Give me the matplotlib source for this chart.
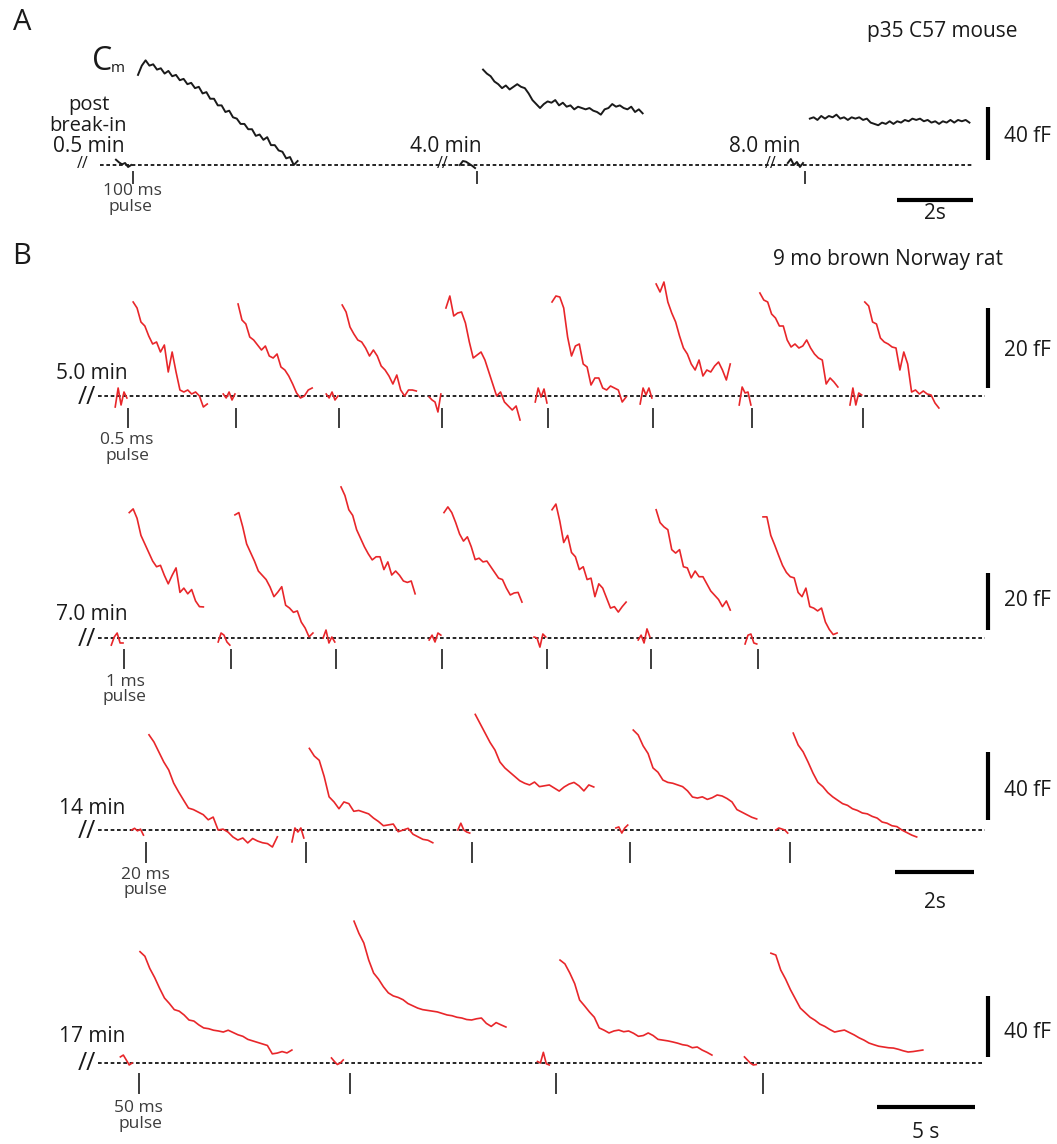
import matplotlib
matplotlib.use('Agg')
import matplotlib.pyplot as plt
import numpy as np

plt.rcParams['font.family'] = ['Open Sans', 'DejaVu Sans']

W, H = 1057, 1144
RED = '#e8262a'
INK = '#1a1a1a'
GREY = '#3c3c3c'

# ---------------- data ----------------
# Cm traces in fF, uniformly sampled after each depolarizing pulse;
# "pre" is the short stretch of baseline recorded just before the pulse.

# A: p35 C57 mouse, 100 ms pulses at 0.5, 4.0 and 8.0 min
a_pulse_t = [0.87, 9.92, 18.55]
a_lag = [0.13, 0.16, 0.13]
a_dt = 0.1
a_traces = [
    [68, 75, 79, 75, 76, 72, 73, 69, 71, 67, 68, 64, 65, 61, 62, 58, 59, 54, 55, 50, 50,
     45, 45, 40, 41, 36, 35, 31, 31, 27, 27, 22, 23, 19, 21, 15, 15, 11, 10, 5, 6, 0, 3],
    [72, 69, 67, 63, 61, 58, 60, 57, 59, 61, 59, 58, 54, 49, 46, 43, 46, 48, 47, 49, 45,
     47, 44, 45, 42, 44, 43, 42, 43, 41, 40, 38, 42, 43, 46, 44, 45, 43, 42, 44, 40, 42, 39],
    [35, 36, 34, 37, 35, 37, 36, 38, 35, 36, 34, 36, 35, 36, 34, 35, 32, 31, 30, 32, 31,
     33, 31, 33, 32, 34, 33, 35, 34, 35, 33, 34, 32, 33, 31, 33, 32, 34, 32, 34, 33, 34, 32],
]
a_pre = [[4, 2, 0.5, 1.5, -1.5, 0], [0, 3, 2.5, 1, -0.5, -2.3], [1.5, 4.5, 0, 2.3, -1.5, 1.5]]

# B: 9 mo brown Norway rat
# 5.0 min, 0.5 ms pulses
b1_pulse_t = [0.72, 3.49, 6.13, 8.77, 11.49, 14.18, 16.72, 19.56]
b1_lag = [0.13, 0.05, 0.08, 0.1, 0.1, 0.08, 0.2, 0.05]
b1_dt = 0.1
b1_traces = [
    [23.5, 22, 18.5, 17.5, 15, 13, 13.5, 11, 12.75, 6, 11, 6, 1.5, 1, 1.5, 0.5, 1, 0, -2.75, -2],
    [23, 19, 18, 14.75, 14, 12.75, 11.5, 12.5, 10, 9.5, 10.5, 7.25, 6.5, 5, 3, 0.75, -0.5, 0, 1.5, 2],
    [22.75, 21, 17.25, 15.5, 14, 13.5, 12, 10, 11.5, 10, 7.5, 6.5, 5, 3, 5.25, 1.5, 0, 1.5, 1.5, 1.25],
    [22, 25, 20, 20.75, 21, 18.25, 13.5, 9.5, 10.25, 11, 9, 6, 3, 0, 1, -1.5, -2.5, -3.5, -2.5, -6],
    [23.5, 25, 24.75, 22, 14.75, 10, 12.5, 13, 8, 7.25, 2.75, 4.5, 4.5, 2, 1.5, 2.5, 2, 1.5, -1.5, -0.25],
    [28, 26, 28.5, 23.5, 20.75, 18.5, 15, 12, 10.5, 8, 6.5, 9, 5, 6.5, 6, 7.5, 8.5, 6.5, 4, 8],
    [25.75, 24, 23.5, 20.5, 19.5, 17.5, 17.5, 14, 12.25, 13, 12, 12.5, 14, 12, 10.5, 9.5, 9, 3, 4.5, 3.5, 2.25],
    [23.5, 22.5, 18.5, 18, 14.5, 13.5, 13, 12.25, 12, 6.5, 11, 8, 1, 1.5, 0.5, 1.25, 0.5, 0.25, -1.75, -3],
]
b1_pre = [[-2.75, 2, -2.25, 1, -0.5], [0.5, -0.5, 1, -1, 0.5], [0.5, -0.5, 1, -1, 0],
          [-0.25, -1, -1.5, -4, 0.5], [-1.5, 2, -0.25, 1.75, -1.75], [-2, 2, 0.25, 2, -0.5],
          [-2.25, 2.25, 0.75, 1, -2.25], [-2.25, 2, -2.25, 0.75, 0.25]]

# 7.0 min, 1 ms pulses
b2_pulse_t = [0.62, 3.36, 6.05, 8.77, 11.46, 14.13, 16.87]
b2_lag = [0.13, 0.1, 0.13, 0.05, 0.13, 0.13, 0.13]
b2_dt = 0.1
b2_traces = [
    [44, 45.3, 42, 36, 33, 30, 27, 25, 25.5, 22, 19, 22, 24.6, 16, 17.5, 15.5, 17, 13, 11, 10.9],
    [43.2, 44, 39, 33, 30, 27, 23.5, 22, 20.5, 17.9, 14.5, 16.1, 18, 11.5, 10.5, 9, 9.5, 5.6, 3.5, 0.4, 1.75],
    [53, 50, 45, 43, 38, 35, 32, 29.5, 27.4, 28.5, 28.5, 24, 26.7, 22.1, 23.5, 22, 20, 19.5, 20, 15.5],
    [44, 46, 44, 40.5, 36.5, 34, 35.5, 32, 27.5, 28, 26.7, 27, 25, 23, 21, 20.5, 17.5, 15.1, 15.8, 16, 12.6],
    [45, 47, 41, 33.5, 36, 30, 28.5, 24, 25, 20.5, 21, 14.5, 19, 17.5, 14, 10.5, 11, 9.1, 11, 12.6],
    [45, 40.5, 39, 38, 31, 29.8, 31, 25, 24.6, 21.1, 23.5, 21.5, 21.5, 19, 16.5, 15, 13.5, 11, 13, 9.8],
    [42.5, 42.5, 36, 32.6, 29, 25.5, 23, 21.5, 21.1, 16, 14.5, 17.5, 11, 10.5, 9.5, 10.5, 5.6, 3, 1.2, 1.75],
]
b2_pre = [[-2.5, 0.35, 1.75, -1.75, -1.75], [-1.4, 1.75, 1, -1.4, -2.5], [0, 2.8, -1.75, 0.35, -1.4],
          [-0.7, 1, -1.4, 1.75, 1], [0.35, 0, -3.2, 1.4, 0.35], [-0.7, 1, -1.75, 3.2, 0.35],
          [-2.1, 1, 1.4, -1.75, -2.1]]

# 14 min, 20 ms pulses
b3_pulse_t = [1.16, 5.22, 9.42, 13.42, 17.47]
b3_lag = [0.08, 0.08, 0.08, 0.08, 0.08]
b3_dt = 0.125
b3_traces = [
    [56, 51.8, 45.9, 40, 35.3, 27.6, 22.4, 17.6, 12.9, 12, 10.5, 9, 6, 7.6, 0, 0.5, -1.2,
     -4.1, -5.9, -4.7, -7.6, -5, -6.5, -7.5, -8, -10, -4],
    [48, 43.5, 41, 31.5, 19.5, 16.5, 12.5, 16.5, 15.5, 11, 11.5, 10.5, 9.5, 7, 5, 2.5, 3,
     3.5, -1, 0, 1, -2.5, -4, -5.5, -6, -7.5],
    [68, 62.5, 57, 51.5, 47, 40, 36.5, 34, 31.5, 29, 27.5, 26.5, 28.2, 25.5, 26, 26.5, 24.7,
     22.9, 25.3, 27, 28, 26, 23, 26.5, 25.3],
    [58.8, 55.9, 49.5, 45, 36.5, 34, 29.4, 28, 27.5, 26.5, 25.5, 23, 19.4, 18.8, 19.5, 18,
     19, 20.6, 20, 18.5, 16.5, 12, 10.5, 9, 7.5, 6.5],
    [57, 50, 46, 40, 33.5, 28, 25.5, 22, 19.5, 17.5, 15.5, 14.5, 12.5, 11.5, 10, 9.5, 8, 7,
     4.7, 4, 2.5, 2, 0, -1.5, -3, -4.1],
]
b3_pre = [[0, 1, -0.5, 0.5, -3], [-7, 1.2, -1.2, 1.2, -4.7], [0, 4, 0, -1.2, -1.8],
          [1.2, 1.8, -1.8, 1.2, 2.9], [0, 1.2, 0.6, 0, -1.8]]

# 17 min, 50 ms pulses
b4_pulse_t = [1.99, 12.76, 23.27, 33.83]
b4_lag = [0.05, 0.2, 0.2, 0.4]
b4_dt = 0.25
b4_traces = [
    [73, 70, 62, 56, 49, 42.6, 39, 35, 34, 31.5, 28.2, 27.5, 25, 23, 22.5, 21.5, 21, 20.3,
     21.5, 20, 18.5, 17.5, 15.5, 14.5, 13.5, 12.5, 11.5, 6, 6.5, 7.5, 6.6, 8.5],
    [93, 85, 78.7, 67.5, 59, 55, 50, 46, 44, 43, 41.5, 39, 37.5, 36, 35, 34.5, 34, 33.5,
     32.5, 31.5, 31, 30, 29.5, 28.5, 28.2, 29, 29.5, 26, 24, 26.5, 25, 23.6],
    [67.5, 65, 59, 52, 41.3, 37.5, 33.5, 30, 23, 21.5, 19.7, 21, 21.6, 20.5, 21, 19.5, 17.5,
     18, 19.7, 18, 15.5, 15, 14.5, 13.8, 13, 12, 11.5, 10, 10.5, 8.5, 7, 5.2],
    [72, 70.8, 61, 55, 48, 42, 36, 33, 30, 28, 25.5, 24, 22, 20.3, 21, 21.6, 20, 18.4, 16.5,
     15, 13.1, 12, 11, 10.5, 10, 9.8, 9, 8, 7.2, 7.5, 8, 8.5],
]
b4_pre = [[4, 5.2, 2, -1.3, 0], [3.3, 1, -1, 0, 2], [1, 0, 7, -0.5, -1.3], [4, 2, 0, -1.3, -1]]

# ---------------- layout ----------------
X0 = 100  # pixel column of t = 0 on every row

rows = [
    dict(base=165, k=1.325, pxps=38.0, pulses=a_pulse_t, lag=a_lag, dt=a_dt, traces=a_traces,
         pre=a_pre, pre_dt=0.08, lead=0.45, color=INK, lw=1.4, dots=(100, 973),
         tick=(7, 18), vbar=(40, 160), label='40 fF', label_y=137,
         hbar=(2, 973, 200, '2s', 213)),
    dict(base=396, k=4.0, pxps=39.0, pulses=b1_pulse_t, lag=b1_lag, dt=b1_dt, traces=b1_traces,
         pre=b1_pre, pre_dt=0.075, lead=0.33, color=RED, lw=1.2, dots=(98, 985),
         tick=(13, 31), vbar=(20, 388), label='20 fF', label_y=350, hbar=None),
    dict(base=638, k=2.85, pxps=39.0, pulses=b2_pulse_t, lag=b2_lag, dt=b2_dt, traces=b2_traces,
         pre=b2_pre, pre_dt=0.075, lead=0.33, color=RED, lw=1.2, dots=(98, 985),
         tick=(12, 30), vbar=(20, 630), label='20 fF', label_y=600, hbar=None),
    dict(base=830, k=1.7, pxps=39.5, pulses=b3_pulse_t, lag=b3_lag, dt=b3_dt, traces=b3_traces,
         pre=b3_pre, pre_dt=0.075, lead=0.36, color=RED, lw=1.2, dots=(98, 985),
         tick=(13, 32), vbar=(40, 820), label='40 fF', label_y=790,
         hbar=(2, 974, 872, '2s', 902)),
    dict(base=1063, k=1.525, pxps=19.6, pulses=b4_pulse_t, lag=b4_lag, dt=b4_dt, traces=b4_traces,
         pre=b4_pre, pre_dt=0.15, lead=0.95, color=RED, lw=1.2, dots=(98, 983),
         tick=(11, 30), vbar=(40, 1057), label='40 fF', label_y=1032,
         hbar=(5, 975, 1107, '5 s', 1133)),
]

fig = plt.figure(figsize=(W / 100, H / 100), dpi=100)


def ftext(x, y, s, size, color=INK, **kw):
    kw.setdefault('ha', 'center')
    kw.setdefault('va', 'center')
    fig.text(x / W, 1 - y / H, s, fontsize=size, color=color, **kw)


for r in rows:
    ax = fig.add_axes([0, 0, 1, 1])
    ax.set_xlim(-X0 / r['pxps'], (W - X0) / r['pxps'])
    ax.set_ylim((r['base'] - H) / r['k'], r['base'] / r['k'])
    ax.axis('off')
    ax.patch.set_visible(False)

    def xd(x):
        return (x - X0) / r['pxps']

    def yd(y):
        return (r['base'] - y) / r['k']

    # zero line
    ax.plot([xd(r['dots'][0]), xd(r['dots'][1])], [0, 0], color='k', lw=1.2,
            ls=(0, (2.2, 1.6)), zorder=1)

    for p, lag, tr, pre in zip(r['pulses'], r['lag'], r['traces'], r['pre']):
        tp = p - r['lead'] + np.arange(len(pre)) * r['pre_dt']
        ax.plot(tp, pre, color=r['color'], lw=r['lw'], zorder=3)
        tt = p + lag + np.arange(len(tr)) * r['dt']
        ax.plot(tt, tr, color=r['color'], lw=r['lw'], zorder=3)
        # pulse marker
        ax.plot([p, p], [-r['tick'][0] / r['k'], -r['tick'][1] / r['k']], color=GREY, lw=1.4)

    # calibration bars
    amp, bottom = r['vbar']
    ax.plot([xd(988)] * 2, [yd(bottom), yd(bottom) + amp], color='k', lw=3.0,
            solid_capstyle='butt')
    ftext(1027, r['label_y'], r['label'], 15)
    if r['hbar']:
        dur, xend, ybar, lab, ylab = r['hbar']
        ax.plot([xd(xend) - dur, xd(xend)], [yd(ybar)] * 2, color='k', lw=3.0,
                solid_capstyle='butt')
        ftext((xend - dur * r['pxps'] / 2), ylab, lab, 15)

# panel letters and titles
ftext(22, 22, 'A', 21)
ftext(22, 257, 'B', 21)
ftext(942, 32, 'p35 C57 mouse', 15)
ftext(888, 260, '9 mo brown Norway rat', 15)

# Cm label
ftext(102, 61, 'C', 23)
ftext(118, 68, 'm', 11)

# panel A annotations
ftext(89, 105, 'post', 14.5)
ftext(88, 126, 'break-in', 14.5)
ftext(89, 146, '0.5 min', 15)
ftext(446, 147, '4.0 min', 15)
ftext(765, 147, '8.0 min', 15)
for x in (83, 443, 771):
    ftext(x, 164, '//', 11.5)
ftext(132, 191, '100 ms', 12.5, GREY)
ftext(130, 207, 'pulse', 12.5, GREY)

# panel B row labels
for y, s in ((374, '5.0 min'), (615, '7.0 min'), (808, '14 min'), (1036, '17 min')):
    ftext(92, y, s, 15)
for y in (397, 639, 831, 1064):
    ftext(87, y, '//', 18)
for x, y, s in ((127, 440, '0.5 ms'), (125, 682, '1 ms'), (145, 875, '20 ms'), (138, 1108, '50 ms')):
    ftext(x, y, s, 12.5, GREY)
for x, y in ((127, 456), (124, 697), (145, 890), (140, 1124)):
    ftext(x, y, 'pulse', 12.5, GREY)

fig.savefig('out.png', dpi=100)
